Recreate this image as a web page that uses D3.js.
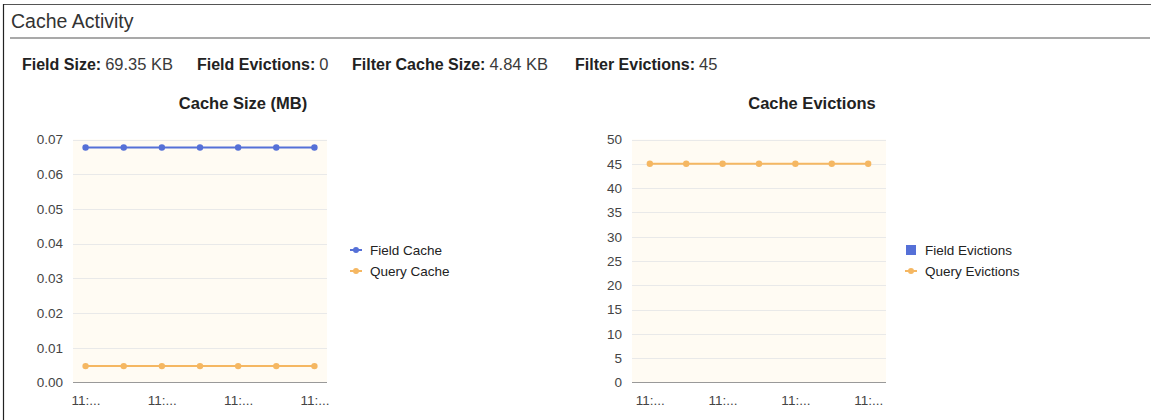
<!DOCTYPE html>
<html>
<head>
<meta charset="utf-8">
<script src="https://cdn.jsdelivr.net/npm/d3@7"></script>
<style>
  html, body { margin: 0; padding: 0; background: #fff; }
  svg { display: block; font-family: "Liberation Sans", Arial, sans-serif; }
</style>
</head>
<body>
<svg id="panel" width="1151" height="420"></svg>
<script>
// Snapshot timestamps (truncated by the chart layout)
const times = ["11:...", "11:...", "11:...", "11:...", "11:...", "11:...", "11:..."];

// Cache size in MB
const fieldCacheMB = [0.0677, 0.0677, 0.0677, 0.0677, 0.0677, 0.0677, 0.0677];
const queryCacheMB = [0.00473, 0.00473, 0.00473, 0.00473, 0.00473, 0.00473, 0.00473];
const sizeTicks = [0, 0.01, 0.02, 0.03, 0.04, 0.05, 0.06, 0.07];

// Evictions
const fieldEvictions = [];
const queryEvictions = [45, 45, 45, 45, 45, 45, 45];
const evictionTicks = [0, 5, 10, 15, 20, 25, 30, 35, 40, 45, 50];

// Summary line
const statLabels = ["Field Size:", "Field Evictions:", "Filter Cache Size:", "Filter Evictions:"];
const statValues = ["69.35 KB", "0", "4.84 KB", "45"];

const BLUE = "#5570d7";
const ORANGE = "#f5b762";

const svg = d3.select("#panel");

// Panel frame
svg.append("line").attr("x1", 3).attr("x2", 1151).attr("y1", 4.5).attr("y2", 4.5)
  .attr("stroke", "#555").attr("stroke-width", 1.2);
svg.append("line").attr("x1", 3.5).attr("x2", 3.5).attr("y1", 4).attr("y2", 420)
  .attr("stroke", "#222").attr("stroke-width", 1.2);

svg.append("text").attr("x", 11).attr("y", 27.5)
  .attr("font-size", 19.5).attr("fill", "#333").text("Cache Activity");
svg.append("rect").attr("x", 10).attr("y", 37).attr("width", 1140).attr("height", 2)
  .attr("fill", "#a9a9a9");

// Summary stats: bold label followed by its value
const statX = [22, 197, 352, 575];
statLabels.forEach((lab, i) => {
  const label = svg.append("text").attr("x", statX[i]).attr("y", 69.5)
    .attr("font-size", 16).attr("font-weight", "bold").attr("fill", "#222").text(lab);
  const w = label.node().getComputedTextLength();
  svg.append("text").attr("x", statX[i] + w + 4).attr("y", 69.5)
    .attr("font-size", 16.5).attr("fill", "#3a3a3a").text(statValues[i]);
});

function drawChart(opts) {
  const g = svg.append("g");
  const x = d3.scalePoint().domain(d3.range(times.length))
    .range([opts.left, opts.right]).padding(opts.pad);
  const y = d3.scaleLinear().domain([opts.ticks[0], opts.ticks[opts.ticks.length - 1]])
    .range([382.5, 139.5]);

  g.append("rect").attr("x", opts.left).attr("y", y.range()[1])
    .attr("width", opts.right - opts.left).attr("height", y.range()[0] - y.range()[1])
    .attr("fill", "#fffbf3");

  // Grid lines
  g.selectAll(".grid").data(opts.ticks.slice(1)).join("line")
    .attr("x1", opts.left).attr("x2", opts.right)
    .attr("y1", d => Math.round(y(d)) + 0.5).attr("y2", d => Math.round(y(d)) + 0.5)
    .attr("stroke", "#e9e9e9");

  // Y axis labels
  const yAxis = d3.axisLeft(y).tickValues(opts.ticks).tickSize(0).tickPadding(0)
    .tickFormat(opts.fmt);
  const ya = g.append("g").attr("transform", `translate(${opts.left - 10},0)`).call(yAxis);
  ya.select(".domain").remove();
  ya.selectAll("text").attr("font-size", 13.5).attr("fill", "#444")
    .attr("font-family", "'Liberation Sans', Arial, sans-serif");

  // Baseline
  g.append("line").attr("x1", opts.left).attr("x2", opts.right)
    .attr("y1", 382.5).attr("y2", 382.5).attr("stroke", "#999").attr("stroke-width", 1.2);

  // X axis labels (every other point)
  const xAxis = d3.axisBottom(x).tickValues(d3.range(0, times.length, 2))
    .tickSize(0).tickPadding(0).tickFormat(i => times[i]);
  const xa = g.append("g").attr("transform", "translate(0,395)").call(xAxis);
  xa.select(".domain").remove();
  xa.selectAll("text").attr("font-size", 13.5).attr("fill", "#444")
    .attr("font-family", "'Liberation Sans', Arial, sans-serif");

  // Series
  opts.series.forEach(s => {
    if (!s.values.length) return;
    const line = d3.line().x((d, i) => x(i)).y(d => y(d));
    g.append("path").datum(s.values).attr("d", line)
      .attr("fill", "none").attr("stroke", s.color).attr("stroke-width", 2);
    g.selectAll(null).data(s.values).join("circle")
      .attr("cx", (d, i) => x(i)).attr("cy", d => y(d)).attr("r", 3.2)
      .attr("fill", s.color);
  });

  // Title
  g.append("text").attr("x", opts.titleX).attr("y", 108.5).attr("text-anchor", "middle")
    .attr("font-size", 16.5).attr("font-weight", "bold").attr("fill", "#222").text(opts.title);

  // Legend
  opts.series.forEach((s, i) => {
    const ly = 250 + i * 21;
    if (s.values.length) {
      g.append("line").attr("x1", opts.legendX).attr("x2", opts.legendX + 12)
        .attr("y1", ly).attr("y2", ly).attr("stroke", s.color).attr("stroke-width", 2);
      g.append("circle").attr("cx", opts.legendX + 6).attr("cy", ly).attr("r", 3)
        .attr("fill", s.color);
    } else {
      g.append("rect").attr("x", opts.legendX + 1).attr("y", ly - 5)
        .attr("width", 10).attr("height", 10).attr("fill", s.color);
    }
    g.append("text").attr("x", opts.legendX + 20).attr("y", ly + 5)
      .attr("font-size", 13.5).attr("fill", "#222").text(s.name);
  });
}

drawChart({
  left: 73, right: 327, pad: 0.33, ticks: sizeTicks,
  fmt: d3.format(".2f"),
  title: "Cache Size (MB)", titleX: 243, legendX: 350,
  series: [
    { name: "Field Cache", values: fieldCacheMB, color: BLUE },
    { name: "Query Cache", values: queryCacheMB, color: ORANGE }
  ]
});

drawChart({
  left: 632, right: 886, pad: 0.49, ticks: evictionTicks,
  fmt: d3.format("d"),
  title: "Cache Evictions", titleX: 812, legendX: 905,
  series: [
    { name: "Field Evictions", values: fieldEvictions, color: BLUE },
    { name: "Query Evictions", values: queryEvictions, color: ORANGE }
  ]
});
</script>
</body>
</html>
